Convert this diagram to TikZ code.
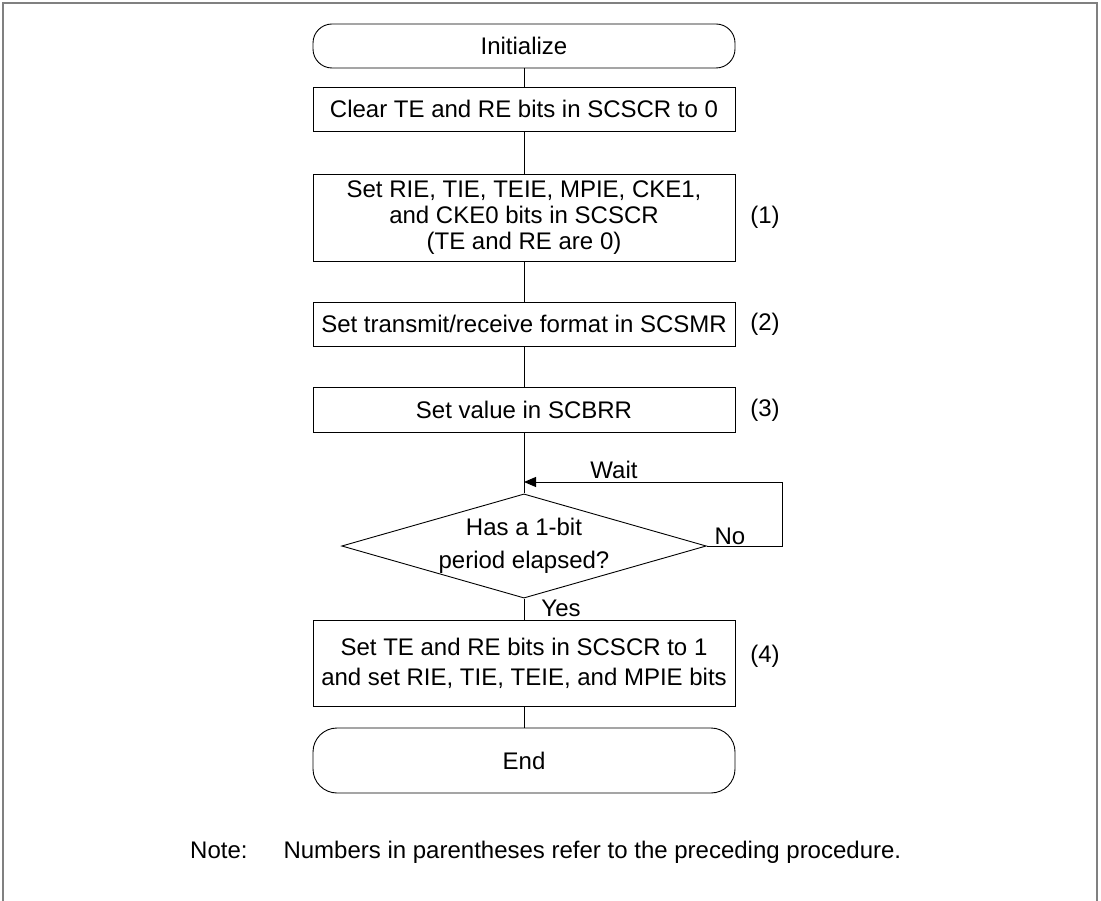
\documentclass[tikz,border=0pt]{standalone}
\usepackage{fontspec}
\setmainfont{Liberation Sans}
\usetikzlibrary{shapes.geometric,arrows.meta}
\begin{document}
\begin{tikzpicture}[x=1pt,y=-1pt,
  every node/.style={font=\fontsize{24}{26}\selectfont},
  term/.style={draw, line width=0.9pt, rounded corners=19pt, minimum width=422pt, minimum height=44pt, inner sep=0pt},
  proc/.style={draw, line width=0.9pt, minimum width=422pt, align=center, inner sep=0pt},
  dec/.style={draw, line width=0.9pt, diamond, aspect=3.5, minimum width=363pt, minimum height=104pt, inner sep=0pt, align=center, font=\fontsize{24}{33}\selectfont},
  conn/.style={line width=0.9pt},
  lbl/.style={inner sep=0pt}]
\useasboundingbox (0,0) rectangle (1101,901);
\draw[gray, line width=1.5pt] (3,901) -- (3,3) -- (1097,3) -- (1097,901);

\node[term] (init) at (524,46) {Initialize};
\node[proc, minimum height=44pt] (clr) at (524,109) {Clear TE and RE bits in SCSCR to 0};
\node[proc, minimum height=87pt] (set1) at (524,217.5) {Set RIE, TIE, TEIE, MPIE, CKE1,\\and CKE0 bits in SCSCR\\(TE and RE are 0)};
\node[proc, minimum height=44pt] (fmt) at (524,324) {Set transmit/receive format in SCSMR};
\node[proc, minimum height=45pt] (brr) at (524,409.5) {Set value in SCBRR};
\node[dec] (dec) at (524,546) {Has a 1-bit\\period elapsed?};
\node[proc, minimum height=86pt, font=\fontsize{24}{30}\selectfont] (set2) at (524,663) {Set TE and RE bits in SCSCR to 1\\and set RIE, TIE, TEIE, and MPIE bits};
\node[term, minimum height=65pt, rounded corners=24pt] (end) at (524,760.5) {End};

\node[lbl] (l1) at (765,217) {(1)};
\node[lbl] (l2) at (765,324) {(2)};
\node[lbl] (l3) at (765,410) {(3)};
\node[lbl] (l4) at (765,656) {(4)};

\coordinate (join) at (524,482);
\coordinate (loopr) at (782,546);
\coordinate (loopt) at (782,482);

\draw[conn] (init) -- (clr);
\draw[conn] (clr) -- (set1);
\draw[conn] (set1) -- (fmt);
\draw[conn] (fmt) -- (brr);
\draw[conn] (brr) -- (dec);
\draw[conn] (dec) -- (set2);
\draw[conn] (set2) -- (end);
\draw[conn, -{Triangle[length=12pt,width=10pt]}] (dec.east) -- (loopr) -- (loopt) -- (join);

\node[lbl] (wait) at (614,470) {Wait};
\node[lbl] (no) at (730,536) {No};
\node[lbl] (yes) at (561,608) {Yes};

\node[lbl, anchor=west] (note) at (190,852) {Note:\hspace{36pt}Numbers in parentheses refer to the preceding procedure.};
\end{tikzpicture}
\end{document}
